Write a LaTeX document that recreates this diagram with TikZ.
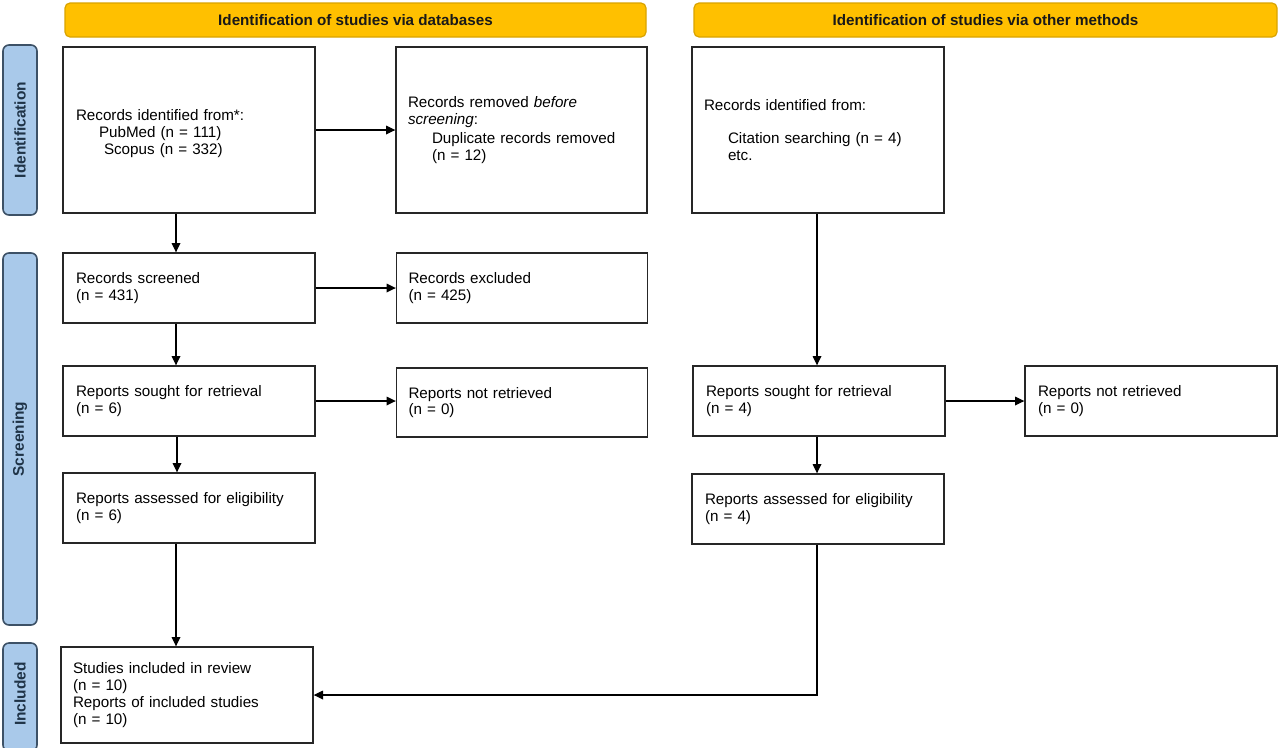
\documentclass[tikz,border=0pt]{standalone}
\usepackage{fontspec}
\setmainfont{Liberation Sans}
\usetikzlibrary{arrows.meta}
\definecolor{hdrfill}{HTML}{FFC000}
\definecolor{hdrdraw}{HTML}{D9A300}
\definecolor{sidefill}{HTML}{A9C9EA}
\definecolor{sidedraw}{HTML}{3D5166}
\definecolor{sidetext}{HTML}{1F3347}
\def\px{0.75pt}
\tikzset{
  box/.style={draw=black!85, line width=1pt, rectangle, minimum width=252*\px,
    text width=226*\px, inner xsep=13*\px, align=left, font=\fontsize{11.4}{12.6}\selectfont},
  hdr/.style={draw=hdrdraw, line width=0.9pt, fill=hdrfill, rounded corners=5*\px,
    minimum height=34*\px, font=\bfseries\fontsize{11.4}{13}\selectfont, text=black!90},
  side/.style={draw=sidedraw, line width=1.2pt, fill=sidefill, rounded corners=6*\px,
    minimum width=34*\px, font=\bfseries\fontsize{11.4}{13}\selectfont, text=sidetext},
  sidetxt/.style={rotate=90, font=\bfseries\fontsize{11.6}{13}\selectfont, text=sidetext},
  arr/.style={line width=0.9pt, -{Triangle[length=7pt,width=6.5pt]}},
  ln/.style={line width=0.9pt}
}
\begin{document}
\begin{tikzpicture}[x=0.75pt,y=-0.75pt]
\useasboundingbox (0,0) rectangle (1280,747);
% headers
\node[hdr, minimum width=581*\px] (h1) at (355.5,20) {Identification of studies via databases};
\node[hdr, minimum width=583*\px] (h2) at (985.5,20) {Identification of studies via other methods};
% side labels
\node[side, minimum height=170*\px] (s1) at (20,130) {};
\node[sidetxt] (s1t) at (s1.center) {Identification};
\node[side, minimum height=372*\px] (s2) at (20,439) {};
\node[sidetxt] (s2t) at (s2.center) {Screening};
\node[side, minimum height=108*\px] (s3) at (20,697) {};
\node[sidetxt] (s3t) at (20,694) {Included};
% boxes
\node[box, minimum height=166*\px] (A) at (189,130) {\rule{0pt}{14pt}Records identified from*:\\
\hspace*{17.25pt}PubMed (n = 111)\\
\hspace*{21pt}Scopus (n = 332)};
\node[box, minimum height=166*\px, minimum width=251*\px, text width=227*\px, inner xsep=11*\px] (B) at (521.5,130) {Records removed \textit{before}\\
\textit{screening}:\\[1.5pt]
\hspace*{18pt}Duplicate records removed\\
\hspace*{18pt}(n = 12)};
\node[box, minimum height=166*\px, inner xsep=12*\px, text width=228*\px] (C) at (818,130) {Records identified from:\\[\baselineskip]
\hspace*{18pt}Citation searching (n = 4)\\
\hspace*{18pt}etc.};
\node[box, minimum height=70*\px] (D) at (189,288) {Records screened\\(n = 431)};
\node[box, minimum height=70*\px, minimum width=251*\px, inner xsep=12*\px, text width=227*\px] (E) at (522,288) {Records excluded\\(n = 425)};
\node[box, minimum height=70*\px] (F) at (189,401) {Reports sought for retrieval\\(n = 6)};
\node[box, minimum height=69*\px, minimum width=251*\px, inner xsep=12*\px, text width=227*\px] (G) at (522,402.5) {Reports not retrieved\\(n = 0)};
\node[box, minimum height=70*\px] (H) at (189,508) {Reports assessed for eligibility\\(n = 6)};
\node[box, minimum height=70*\px] (I) at (819,401) {Reports sought for retrieval\\(n = 4)};
\node[box, minimum height=70*\px] (J) at (1151,401) {Reports not retrieved\\(n = 0)};
\node[box, minimum height=70*\px] (K) at (818,509) {Reports assessed for eligibility\\(n = 4)};
\node[box, minimum height=96*\px, inner xsep=12*\px, text width=228*\px] (L) at (187,695) {Studies included in review\\(n = 10)\\Reports of included studies\\(n = 10)};
% columns
\coordinate (cl) at (176,0);
\coordinate (cl2) at (177,0);
\coordinate (cr) at (817,0);
% arrows
\draw[arr] (A.south -| cl) -- (D.north -| cl);
\draw[arr] (A.east) -- (B.west);
\draw[arr] (D.east) -- (E.west |- D.east);
\draw[arr] (D.south -| cl) -- (F.north -| cl);
\draw[arr] (F.east) -- (G.west |- F.east);
\draw[arr] (F.south -| cl2) -- (H.north -| cl2);
\draw[arr] (H.south -| cl) -- (L.north -| cl);
\draw[arr] (C.south -| cr) -- (I.north -| cr);
\draw[arr] (I.east) -- (J.west);
\draw[arr] (I.south -| cr) -- (K.north -| cr);
\draw[arr] (K.south -| cr) -- (cr |- L.east) -- (L.east);
\end{tikzpicture}
\end{document}
